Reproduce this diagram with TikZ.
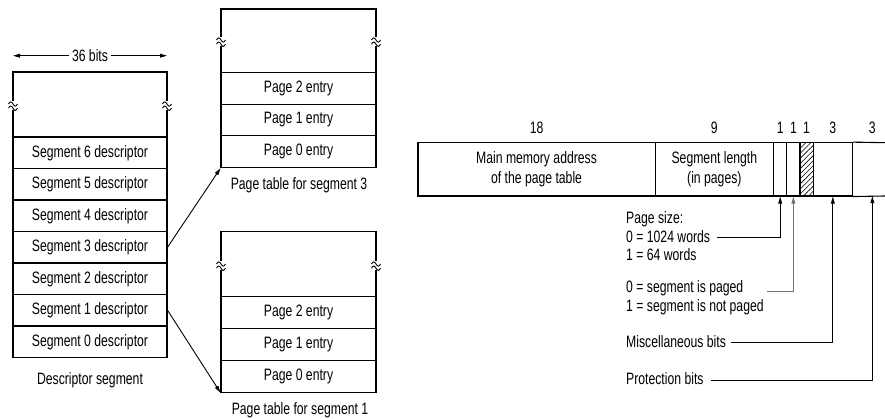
\documentclass[tikz,border=0pt]{standalone}
\usepackage{fontspec}
\setmainfont[FakeStretch=0.74]{Liberation Sans}
\usetikzlibrary{arrows.meta,patterns.meta}

% break mark on a vertical edge: a short gap with two small waves
\newcommand\wavebreak[2]{%
  \fill[white] (#1-2,#2-4.5) rectangle (#1+2,#2+4.5);
  \draw[line width=0.9pt] (#1-4.5,#2-2) sin (#1-2.25,#2-4.2) cos (#1,#2-2) sin (#1+2.25,#2+0.2) cos (#1+4.5,#2-2);
  \draw[line width=0.9pt] (#1-4.5,#2+2.2) sin (#1-2.25,#2) cos (#1,#2+2.2) sin (#1+2.25,#2+4.4) cos (#1+4.5,#2+2.2);
}

\begin{document}
\begin{tikzpicture}[x=1pt,y=-1pt,
  every node/.style={font=\fontsize{16.5}{20.5}\selectfont, inner sep=0pt},
  box/.style={draw, line width=1.1pt},
  desc/.style={box, minimum width=154pt, minimum height=31.5pt},
  entry/.style={box, minimum width=155pt, minimum height=31.8pt},
  field/.style={box, minimum height=53.3pt, align=center},
  bitlabel/.style={anchor=base, yshift=8.5pt},
  tip/.style={-{Triangle[length=7pt,width=3.8pt]}},
  wire/.style={line width=0.9pt},
  legend/.style={anchor=base west},
]
\useasboundingbox (0,0) rectangle (885,419);

% ---------------- descriptor segment ----------------
\coordinate (wl) at (13,55.7);
\coordinate (wr) at (167,55.7);
\node[inner sep=3pt] (bits) at (90,55.7) {36 bits};
\draw[wire,tip] (bits.west) -- (wl);
\draw[wire,tip] (bits.east) -- (wr);

\node[desc, minimum height=65pt] (dtop) at (90,104.5) {};
\node[desc] (s6) at (90,152.75) {Segment 6 descriptor};
\node[desc] (s5) at (90,184.25) {Segment 5 descriptor};
\node[desc] (s4) at (90,215.75) {Segment 4 descriptor};
\node[desc] (s3) at (90,247.25) {Segment 3 descriptor};
\node[desc] (s2) at (90,278.75) {Segment 2 descriptor};
\node[desc] (s1) at (90,310.25) {Segment 1 descriptor};
\node[desc] (s0) at (90,341.75) {Segment 0 descriptor};
\node (dcap) at (90,380) {Descriptor segment};
\wavebreak{13}{106}
\wavebreak{167}{106}

% ---------------- page table for segment 3 ----------------
\node[entry, minimum height=63.3pt] (ta) at (298.5,40.65) {};
\node[entry] (a2) at (298.5,88.2) {Page 2 entry};
\node[entry] (a1) at (298.5,120) {Page 1 entry};
\node[entry] (a0) at (298.5,151.8) {Page 0 entry};
\node (acap) at (299,185) {Page table for segment 3};
\wavebreak{221}{42}
\wavebreak{376}{42}

% ---------------- page table for segment 1 ----------------
\node[entry, minimum height=65pt] (tb) at (298.5,264.2) {};
\node[entry] (b2) at (298.5,312.6) {Page 2 entry};
\node[entry] (b1) at (298.5,344.4) {Page 1 entry};
\node[entry] (b0) at (298.5,376.2) {Page 0 entry};
\node (bcap) at (300,410) {Page table for segment 1};
\wavebreak{221}{266}
\wavebreak{376}{266}

% descriptors point at their page tables
\draw[wire,tip] (s3.east) -- (a0.south west);
\draw[wire,tip] (s1.east) -- (b0.south west);

% ---------------- descriptor word layout ----------------
\node[field, minimum width=237.1pt] (fmain) at (536.55,169.35) {Main memory address\\of the page table};
\node[field, minimum width=118.5pt] (flen) at (714.35,169.35) {Segment length\\(in pages)};
\node[field, minimum width=13.2pt] (fps) at (780.2,169.35) {};
\node[field, minimum width=13.2pt] (fpg) at (793.4,169.35) {};
\node[field, minimum width=13.1pt, pattern={Lines[angle=45,distance=3.6pt,line width=0.6pt]}] (fhat) at (806.55,169.35) {};
\node[field, minimum width=39.5pt] (fmisc) at (832.85,169.35) {};
\node[minimum width=39.5pt, minimum height=53.3pt] (fprot) at (872.35,169.35) {};
\coordinate (et) at (885,142.7);
\coordinate (eb) at (885,196);
\draw[line width=1.1pt] (fmisc.north east) -- (et);
\draw[line width=1.1pt] (fmisc.south east) -- (eb);

\node[bitlabel] at (fmain.north) {18};
\node[bitlabel] at (flen.north) {9};
\node[bitlabel] at (fps.north) {1};
\node[bitlabel] at (fpg.north) {1};
\node[bitlabel] at (fhat.north) {1};
\node[bitlabel] at (fmisc.north) {3};
\node[bitlabel] at (fprot.north) {3};

% legends
\node[legend] (lps) at (626,224) {Page size:};
\node[legend] (l0) at (626,242.5) {0 = 1024 words};
\node[legend] (l1) at (626,261) {1 = 64 words};
\node[legend] (lpg) at (626,292.5) {0 = segment is paged};
\node[legend] (lnp) at (626,311) {1 = segment is not paged};
\node[legend] (lmisc) at (626,347) {Miscellaneous bits};
\node[legend] (lprot) at (626,384.5) {Protection bits};

\draw[wire,tip] ([xshift=7pt,yshift=5.5pt]l0.base east) -| (fps.south);
\draw[wire,tip,black!55] ([xshift=23pt,yshift=1.5pt]lpg.base east) -| (fpg.south);
\draw[wire,tip] ([xshift=5pt,yshift=4.3pt]lmisc.base east) -| (fmisc.south);
\draw[wire,tip] ([xshift=7pt,yshift=4.5pt]lprot.base east) -| (fprot.south);
\end{tikzpicture}
\end{document}
